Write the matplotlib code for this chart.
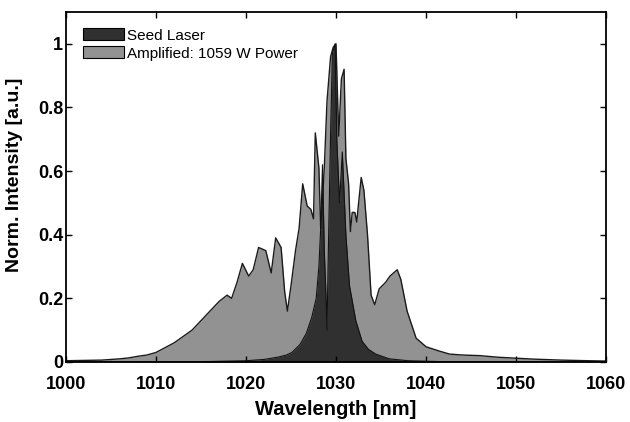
import matplotlib
matplotlib.use("Agg")
import matplotlib.pyplot as plt
from matplotlib.patches import Patch

plt.rcParams['font.family'] = ['Liberation Sans', 'DejaVu Sans']

amp_wl = [1000, 1002, 1004, 1006, 1007, 1008, 1009, 1010, 1011, 1012, 1013, 1014,
          1015, 1016, 1017, 1017.9, 1018.4, 1019, 1019.6, 1020.3, 1020.8, 1021.4,
          1022.2, 1022.8, 1023.3, 1023.9, 1024.3, 1024.6, 1025.0, 1025.5, 1025.9,
          1026.3, 1026.8, 1027.2, 1027.5, 1027.7, 1028.1, 1028.3, 1028.7, 1029.0,
          1029.4, 1029.7, 1030.0, 1030.3, 1030.6, 1030.9, 1031.1, 1031.4, 1031.6,
          1031.8, 1032.1, 1032.3, 1032.8, 1033.1, 1033.5, 1033.9, 1034.3, 1034.8,
          1035.5, 1036.0, 1036.8, 1037.2, 1037.9, 1038.9, 1040, 1041.4, 1042.6,
          1044, 1046, 1048, 1050, 1052, 1055, 1058, 1060]
amp_val = [0.004, 0.005, 0.006, 0.010, 0.013, 0.018, 0.022, 0.030, 0.045, 0.060, 0.080, 0.100,
           0.130, 0.160, 0.190, 0.210, 0.200, 0.250, 0.310, 0.270, 0.290, 0.360,
           0.350, 0.280, 0.390, 0.360, 0.220, 0.160, 0.240, 0.350, 0.420,
           0.560, 0.490, 0.480, 0.450, 0.720, 0.610, 0.420, 0.610, 0.820,
           0.960, 0.990, 1.000, 0.710, 0.890, 0.920, 0.640, 0.560, 0.410,
           0.470, 0.470, 0.440, 0.580, 0.540, 0.400, 0.210, 0.180, 0.230,
           0.250, 0.270, 0.290, 0.260, 0.160, 0.075, 0.048, 0.035, 0.025,
           0.022, 0.020, 0.015, 0.012, 0.009, 0.006, 0.004, 0.003]

seed_wl = [1000, 1015, 1020, 1022, 1023.5, 1024.5, 1025.1, 1026, 1026.7, 1027.3,
           1027.8, 1028.1, 1028.3, 1028.5, 1028.7, 1028.9, 1029.0, 1029.15, 1029.4,
           1029.6, 1029.9, 1030.1, 1030.4, 1030.7, 1031.1, 1031.5, 1032.2, 1032.9,
           1033.6, 1034.4, 1035.9, 1038, 1042, 1060]
seed_val = [0.0, 0.001, 0.004, 0.008, 0.015, 0.022, 0.030, 0.055, 0.090, 0.140,
            0.200, 0.300, 0.420, 0.620, 0.350, 0.200, 0.100, 0.350, 0.720,
            0.970, 1.000, 0.690, 0.500, 0.660, 0.400, 0.240, 0.130, 0.065,
            0.040, 0.025, 0.010, 0.004, 0.001, 0.0]

x_ticks = [1000, 1010, 1020, 1030, 1040, 1050, 1060]
y_ticks = [0, 0.2, 0.4, 0.6, 0.8, 1]
y_ticklabels = ['0', '0.2', '0.4', '0.6', '0.8', '1']

amp_color = '#929292'
seed_color = '#303030'

fig = plt.figure(figsize=(6.3, 4.22), dpi=100)
ax = fig.add_axes([66 / 630, (422 - 362) / 422, 540 / 630, 350 / 422])

ax.fill_between(amp_wl, 0, amp_val, color=amp_color, linewidth=0)
ax.plot(amp_wl, amp_val, color='#1a1a1a', linewidth=1.0)
ax.fill_between(seed_wl, 0, seed_val, color=seed_color, linewidth=0)
ax.plot(seed_wl, seed_val, color='#111111', linewidth=0.8)

ax.set_xlim(1000, 1060)
ax.set_ylim(0, 1.1)
ax.set_xticks(x_ticks)
ax.set_xticklabels([str(t) for t in x_ticks], fontsize=13, fontweight='bold')
ax.set_yticks(y_ticks)
ax.set_yticklabels(y_ticklabels, fontsize=13, fontweight='bold')
ax.tick_params(direction='in', top=True, right=True, length=4, width=1)
ax.tick_params(axis='x', pad=10)
ax.tick_params(axis='y', pad=2)
for s in ax.spines.values():
    s.set_linewidth(1.3)

ax.set_xlabel('Wavelength [nm]', fontsize=14.5, fontweight='bold', labelpad=5)
ax.set_ylabel('Norm. Intensity [a.u.]', fontsize=14, fontweight='bold')
ax.yaxis.set_label_coords(-0.080, 0.534)

handles = [Patch(facecolor=seed_color, edgecolor='black', linewidth=0.8, label='Seed Laser'),
           Patch(facecolor=amp_color, edgecolor='black', linewidth=0.8, label='Amplified: 1059 W Power')]
ax.legend(handles=handles, loc='upper left', frameon=False, fontsize=11,
          handlelength=2.7, handleheight=0.8, handletextpad=0.2, borderpad=0,
          borderaxespad=0, labelspacing=0.25, bbox_to_anchor=(0.031, 0.953))

fig.savefig('out.png', dpi=100)
